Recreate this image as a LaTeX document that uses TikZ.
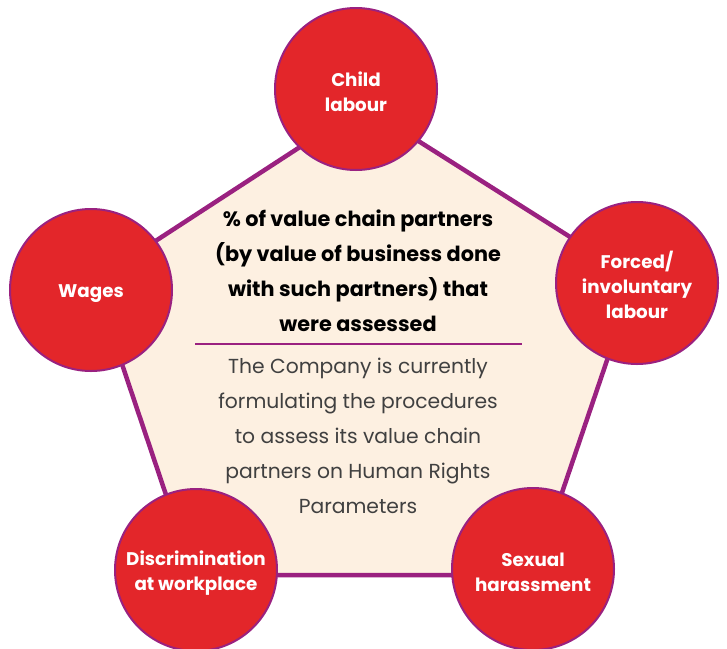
\documentclass[tikz,border=0pt]{standalone}
\usepackage{fontspec}
\setmainfont{Poppins}
\definecolor{issuered}{HTML}{E3262A}
\definecolor{rimpurple}{HTML}{9A2180}
\definecolor{cream}{HTML}{FDF0E1}
\definecolor{bodygrey}{HTML}{404040}
\begin{document}
\begin{tikzpicture}[x={(1pt,0)}, y={(0,-1pt)}]
      \tikzset{issue/.style={draw=rimpurple, line width=2pt, circle, inner sep=0pt, minimum size=162pt, fill=issuered, text=white, align=center, font=\fontsize{18.3}{25}\selectfont\bfseries}}
      \tikzset{rim/.style={draw=rimpurple, line width=4.5pt, fill=cream, line join=miter}}
      \useasboundingbox (0,0) rectangle (727,648);
%% Corners
	%pentagon
      	\coordinate (c1) at (363,106);
      	\coordinate (c2) at (635,278);
      	\coordinate (c3) at (534,575);
      	\coordinate (c4) at (193,575);
      	\coordinate (c5) at (94,281);
%Edges
		\path [rim] (c1) -- (c2) -- (c3) -- (c4) -- (c5) -- cycle;
%% Texts
      	\node[align=center, font=\fontsize{20.8}{35}\selectfont\bfseries] (title) at (358,271) {\% of value chain partners\\(by value of business done\\with such partners) that\\were assessed};
      	\coordinate (sepL) at (195,344);
      	\coordinate (sepR) at (522,344);
		\path [draw=rimpurple, line width=2pt] (sepL) edge (sepR);
      	\node[align=center, text=bodygrey, font=\fontsize{20.3}{35}\selectfont] (body) at (358,436) {The Company is currently\\formulating the procedures\\to assess its value chain\\partners on Human Rights\\Parameters};
%% Circles
      	\node[issue] (child) at (356,89) {};
      	\node[issue] (forced) at (637,283) {};
      	\node[issue] (sexual) at (533,569) {};
      	\node[issue] (discrim) at (196,570) {};
      	\node[issue] (wages) at (91,290) {};
	%labels
      	\node[issue, draw=none, fill=none, minimum size=0pt] (childtxt) at ([yshift=-3pt]child.center) {Child\\labour};
      	\node[issue, draw=none, fill=none, minimum size=0pt] (forcedtxt) at ([yshift=-2pt]forced.center) {Forced/\\involuntary\\labour};
      	\node[issue, draw=none, fill=none, minimum size=0pt] (sexualtxt) at ([yshift=-3pt]sexual.center) {Sexual\\harassment};
      	\node[issue, draw=none, fill=none, minimum size=0pt] (discrimtxt) at ([yshift=-3pt]discrim.center) {Discrimination\\at workplace};
      	\node[issue, draw=none, fill=none, minimum size=0pt] (wagestxt) at ([yshift=-4pt]wages.center) {Wages};
\end{tikzpicture}
\end{document}
